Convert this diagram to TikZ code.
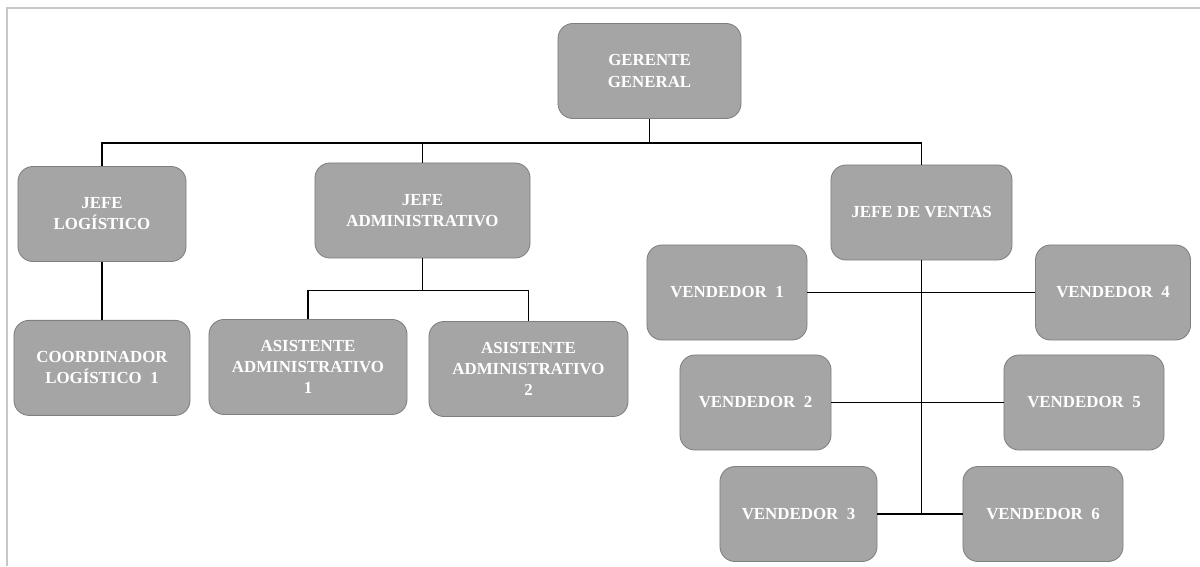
\documentclass[tikz,border=0pt]{standalone}
\usepackage{fontspec}
\setmainfont{Liberation Serif}
\usetikzlibrary{positioning}
\definecolor{cajagris}{HTML}{A5A5A5}
\definecolor{bordegris}{HTML}{7F7F7F}
\definecolor{marco}{HTML}{C8C8C8}

\begin{document}
\begin{tikzpicture}[x=0.025cm,y=-0.025cm,
    puesto/.style={rectangle,rounded corners=0.375cm,draw=bordegris,fill=cajagris,
      line width=0.6pt,text=white,font=\fontsize{12}{15}\selectfont\bfseries,
      align=center,minimum height=2.375cm,inner sep=2pt},
    linea/.style={line width=0.8pt}]
    \useasboundingbox (0,0) rectangle (1200,566);
    % marco
    \draw[marco,line width=1.4pt] (7,566) -- (7,8) -- (1200,8);
    % nodes
      \node[puesto,minimum width=4.575cm] (gg) at (649.5,71) {GERENTE\\GENERAL};
      \node[puesto,minimum width=4.2cm] (jl) at (102,214) {JEFE\\LOGÍSTICO};
      \node[puesto,minimum width=5.375cm] (ja) at (422.5,210.5) {JEFE\\ADMINISTRATIVO};
      \node[puesto,minimum width=4.525cm] (jv) at (921.5,212.5) {JEFE DE VENTAS};
      \node[puesto,minimum width=4.4cm] (cl) [below=1.45cm of jl] {COORDINADOR\\LOGÍSTICO~~1};
      \node[puesto,minimum width=4.95cm] (aa1) at (308,367) {ASISTENTE\\ADMINISTRATIVO\\1};
      \node[puesto,minimum width=4.975cm] (aa2) at (528.5,369) {ASISTENTE\\ADMINISTRATIVO\\2};
      \foreach \n/\x/\y/\w in {1/727/292.5/4.0cm, 2/755.5/402.5/3.775cm, 3/798.5/514/3.925cm,
          4/1113/292.5/3.875cm, 5/1084/402.5/4.0cm, 6/1043/514/4.0cm}
        \node[puesto,minimum width=\w] (v\n) at (\x,\y) {VENDEDOR~~\n};
      %edges
      \draw[line width=1.1pt] (gg.south) -- ++(0,24) coordinate (bus);
      \draw[linea] (bus) -| (jl.north);
      \draw[linea] (bus) -| (ja.north);
      \draw[linea] (bus) -| (jv.north);
      \draw[linea] (jl) -- (cl);
      \draw[linea] (ja.south) -- ++(0,32) coordinate (rama);
      \draw[linea] (rama) -| (aa1.north);
      \draw[linea] (rama) -| (aa2.north);
      \draw[line width=1.1pt] (jv.south) -- (jv.south |- v3.east);
      \foreach \i/\j in {1/4,2/5,3/6}
        \draw[linea] (v\i.east) -- (v\j.west);
    \end{tikzpicture}
\end{document}
